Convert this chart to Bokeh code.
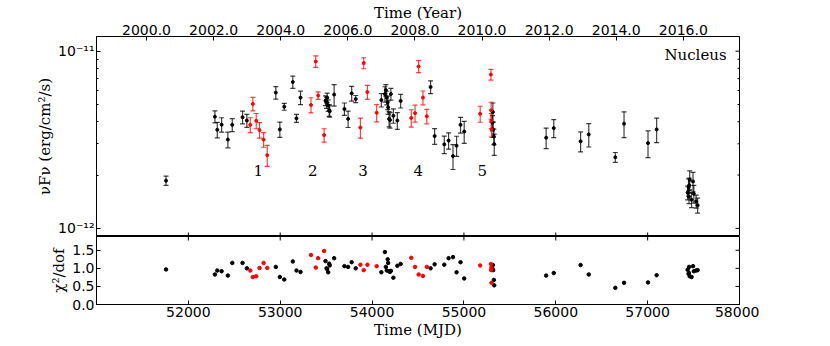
import math
from bokeh.plotting import figure
from bokeh.models import (ColumnDataSource, Range1d, LinearAxis, FixedTicker,
                          PrintfTickFormatter, CustomJSTickFormatter, Whisker, TeeHead, Label)
from bokeh.layouts import column
from bokeh.embed import file_html
from bokeh.resources import INLINE
from bokeh.core.properties import value

# ---------------- data ----------------
black_mjd = [51757, 52289, 52315, 52362, 52430, 52478, 52590, 52637, 52952, 52996,
             53044, 53137, 53177, 53221, 53493, 53504, 53511, 53522, 53533, 53539,
             53587, 53699, 53739, 53778, 53822, 54101, 54140, 54150, 54160, 54170,
             54175, 54185, 54195, 54205, 54232, 54275, 54311, 54637, 54681, 54786,
             54833, 54881, 54920, 54963, 55003, 55311, 55315, 55318, 55326, 55330,
             55895, 55978, 56270, 56359, 56648, 56743, 57004, 57098, 57435, 57445,
             57450, 57452, 57458, 57478, 57494, 57503, 57528, 57544]
black_flux = [1.86e-12, 4.27e-12, 3.60e-12, 3.85e-12, 3.17e-12, 3.84e-12, 4.24e-12, 4.06e-12, 5.84e-12, 3.62e-12,
              4.86e-12, 6.70e-12, 4.18e-12, 5.47e-12, 5.26e-12, 5.13e-12, 5.46e-12, 4.94e-12, 4.64e-12, 4.58e-12,
              5.69e-12, 4.72e-12, 4.15e-12, 5.78e-12, 5.37e-12, 5.30e-12, 5.73e-12, 6.03e-12, 5.46e-12, 5.13e-12,
              4.82e-12, 4.15e-12, 4.09e-12, 5.73e-12, 4.32e-12, 4.06e-12, 5.24e-12, 6.28e-12, 3.32e-12, 2.98e-12,
              3.13e-12, 2.56e-12, 2.93e-12, 3.84e-12, 3.52e-12, 3.94e-12, 4.54e-12, 3.62e-12, 3.30e-12, 2.99e-12,
              3.25e-12, 3.68e-12, 3.10e-12, 3.39e-12, 2.52e-12, 3.90e-12, 3.03e-12, 3.62e-12, 1.59e-12, 1.71e-12,
              1.51e-12, 1.75e-12, 1.88e-12, 1.45e-12, 1.84e-12, 1.57e-12, 1.42e-12, 1.35e-12]
black_err = [0.11e-12, 0.33e-12, 0.36e-12, 0.36e-12, 0.32e-12, 0.32e-12, 0.35e-12, 0.34e-12, 0.47e-12, 0.36e-12,
             0.22e-12, 0.53e-12, 0.22e-12, 0.48e-12, 0.33e-12, 0.38e-12, 0.34e-12, 0.37e-12, 0.35e-12, 0.34e-12,
             0.79e-12, 0.38e-12, 0.44e-12, 0.55e-12, 0.25e-12, 0.46e-12, 0.57e-12, 0.45e-12, 0.48e-12, 0.45e-12,
             0.42e-12, 0.41e-12, 0.41e-12, 0.43e-12, 0.40e-12, 0.44e-12, 0.46e-12, 0.52e-12, 0.34e-12, 0.34e-12,
             0.33e-12, 0.41e-12, 0.38e-12, 0.39e-12, 0.50e-12, 0.39e-12, 0.56e-12, 0.36e-12, 0.33e-12, 0.41e-12,
             0.43e-12, 0.43e-12, 0.40e-12, 0.51e-12, 0.16e-12, 0.65e-12, 0.52e-12, 0.57e-12, 0.14e-12, 0.19e-12,
             0.13e-12, 0.17e-12, 0.23e-12, 0.14e-12, 0.23e-12, 0.18e-12, 0.12e-12, 0.13e-12]
black_chi2 = [0.97, 0.83, 0.94, 0.92, 0.80, 1.15, 1.15, 1.00, 1.04, 0.76,
              0.69, 1.19, 0.94, 0.90, 1.20, 1.00, 0.98, 0.89, 1.13, 1.08,
              1.28, 1.06, 1.04, 1.17, 1.00, 0.89, 1.45, 1.04, 0.94, 1.25,
              1.15, 0.92, 0.90, 0.93, 0.74, 1.07, 1.12, 1.00, 1.11, 1.10,
              1.28, 1.31, 0.89, 1.17, 0.72, 0.99, 1.09, 0.95, 0.68, 0.53,
              0.80, 0.87, 1.09, 0.83, 0.46, 0.60, 0.61, 0.81, 0.96, 0.85,
              0.87, 1.04, 0.78, 0.76, 1.06, 0.92, 0.94, 0.95]

red_mjd = [52674, 52702, 52739, 52775, 52819, 52859, 53335, 53387, 53413, 53478,
           53873, 53909, 53949, 54050, 54427, 54468, 54507, 54554, 54596, 55177,
           55294, 55296, 55298, 55300]
red_flux = [3.84e-12, 5.04e-12, 4.05e-12, 3.59e-12, 3.17e-12, 2.59e-12, 4.97e-12, 8.75e-12, 5.62e-12, 3.36e-12,
            3.71e-12, 8.57e-12, 5.88e-12, 4.49e-12, 4.20e-12, 4.47e-12, 8.20e-12, 5.47e-12, 4.29e-12, 4.43e-12,
            7.38e-12, 4.64e-12, 4.05e-12, 3.62e-12]
red_err = [0.37e-12, 0.44e-12, 0.40e-12, 0.36e-12, 0.30e-12, 0.35e-12, 0.49e-12, 0.65e-12, 0.28e-12, 0.29e-12,
           0.48e-12, 0.61e-12, 0.53e-12, 0.50e-12, 0.47e-12, 0.49e-12, 0.64e-12, 0.49e-12, 0.40e-12, 0.46e-12,
           0.51e-12, 0.51e-12, 0.40e-12, 0.35e-12]
red_chi2 = [0.94, 0.76, 0.78, 1.01, 1.15, 1.01, 1.37, 1.02, 1.28, 1.48,
            1.10, 0.95, 1.10, 1.06, 1.29, 1.04, 0.83, 0.79, 1.04, 1.08,
            1.12, 0.95, 1.02, 0.60]

seg_labels = ["1", "2", "3", "4", "5"]
seg_mjd = [52761, 53354, 53902, 54503, 55199]
seg_flux = [2.13e-12, 2.13e-12, 2.13e-12, 2.13e-12, 2.13e-12]

mjd_ticks = [51000, 52000, 53000, 54000, 55000, 56000, 57000, 58000]
mjd_label_ticks = [52000, 53000, 54000, 55000, 56000, 57000, 58000]
year_ticks = [2000, 2002, 2004, 2006, 2008, 2010, 2012, 2014, 2016]
chi_ticks = [0.0, 0.5, 1.0, 1.5]
flux_ticks = [1e-12, 1e-11]
flux_minor = [k * 1e-12 for k in range(2, 10)]

MJD_MIN, MJD_MAX = 51000, 58000
MJD_Y2000 = 51544.5
FLUX_MIN, FLUX_MAX = 9.0e-13, 1.21e-11
CHI_MIN, CHI_MAX = 0.0, 1.88

# ---------------- styling ----------------
TICK_FONT = "DejaVu Sans"
LABEL_FONT = "DejaVu Serif"
TICK_SIZE = "14px"
LABEL_SIZE = "15px"
FRAME_W = 643
LEFT = 96
RIGHT = 20
MAJ = 4   # inward major tick length (px)
MIN = 2   # inward minor tick length (px)


def style_axis(ax):
    ax.major_tick_in = MAJ
    ax.major_tick_out = 0
    ax.minor_tick_in = MIN
    ax.minor_tick_out = 0
    ax.axis_line_color = "black"
    ax.major_tick_line_color = "black"
    ax.minor_tick_line_color = "black"
    ax.major_label_text_font = TICK_FONT
    ax.major_label_text_color = "black"
    ax.major_label_text_font_size = TICK_SIZE
    ax.axis_label_text_font = LABEL_FONT
    ax.axis_label_text_font_style = "normal"
    ax.axis_label_text_font_size = LABEL_SIZE
    ax.axis_label_text_color = "black"
    ax.major_label_standoff = 2
    ax.axis_label_standoff = 1


def inner_ticks(p, xs, ys, length, vertical):
    # tick marks drawn as dashes centred on the frame edge; the frame clips the outer half
    p.scatter(x=xs, y=ys, marker="dash", size=2 * length,
              angle=(math.pi / 2 if vertical else 0.0), line_color="black", line_width=1)


def to_year(m):
    return 2000.0 + (m - MJD_Y2000) / 365.25


sup_js = """
const sup = {'-':'\u207b','0':'\u2070','1':'\u00b9','2':'\u00b2','3':'\u00b3','4':'\u2074',
             '5':'\u2075','6':'\u2076','7':'\u2077','8':'\u2078','9':'\u2079'};
const e = Math.round(Math.log10(tick));
return '10' + String(e).split('').map(c => sup[c]).join('');
"""

# ---------------- top panel ----------------
p1 = figure(frame_width=FRAME_W, frame_height=200,
            x_range=Range1d(MJD_MIN, MJD_MAX), y_range=Range1d(FLUX_MIN, FLUX_MAX),
            y_axis_type="log", x_axis_location=None,
            output_backend="svg", toolbar_location=None,
            min_border_left=LEFT, min_border_right=RIGHT, min_border_top=0, min_border_bottom=0)
p1.grid.visible = False
p1.outline_line_color = "black"
p1.outline_line_alpha = 1.0
p1.background_fill_color = "white"
p1.border_fill_color = "white"

yl = p1.yaxis[0]
yl.ticker = FixedTicker(ticks=flux_ticks, minor_ticks=flux_minor)
yl.formatter = CustomJSTickFormatter(code=sup_js)
yl.axis_label = "\u03bdF\u03bd (erg/cm\u00b2/s)"
style_axis(yl)

p1.extra_x_ranges = {"year": Range1d(to_year(MJD_MIN), to_year(MJD_MAX))}
ya = LinearAxis(x_range_name="year", ticker=FixedTicker(ticks=year_ticks),
                formatter=PrintfTickFormatter(format="%.1f"), axis_label="Time (Year)")
style_axis(ya)
ya.axis_label_standoff = 0
p1.add_layout(ya, "above")

# inward ticks on the bottom and right edges of the top panel
inner_ticks(p1, mjd_ticks, [FLUX_MIN] * len(mjd_ticks), MAJ, True)
inner_ticks(p1, [MJD_MAX] * len(flux_ticks), flux_ticks, MAJ, False)
inner_ticks(p1, [MJD_MAX] * len(flux_minor), flux_minor, MIN, False)

src_b = ColumnDataSource(dict(x=black_mjd, y=black_flux,
                              lo=[f - e for f, e in zip(black_flux, black_err)],
                              hi=[f + e for f, e in zip(black_flux, black_err)]))
src_r = ColumnDataSource(dict(x=red_mjd, y=red_flux,
                              lo=[f - e for f, e in zip(red_flux, red_err)],
                              hi=[f + e for f, e in zip(red_flux, red_err)]))

for src, col in ((src_b, "black"), (src_r, "#ff0000")):
    w = Whisker(source=src, base="x", lower="lo", upper="hi", dimension="height",
                line_color=col, line_alpha=0.75, line_width=1.2,
                upper_head=TeeHead(size=5, line_color=col, line_alpha=0.75, line_width=1.2),
                lower_head=TeeHead(size=5, line_color=col, line_alpha=0.75, line_width=1.2))
    p1.add_layout(w)
    p1.scatter("x", "y", source=src, size=3, color=col)

p1.text(x=seg_mjd, y=seg_flux, text=seg_labels, text_font=value(LABEL_FONT),
        text_font_size="15px", text_align="center", text_baseline="middle", text_color="black")

p1.add_layout(Label(x=57860, y=9.5e-12, text="Nucleus", text_align="right", text_baseline="middle",
                    text_font=LABEL_FONT, text_font_size="15px", text_color="black"))

# ---------------- bottom panel ----------------
p2 = figure(frame_width=FRAME_W, frame_height=68,
            x_range=p1.x_range, y_range=Range1d(CHI_MIN, CHI_MAX),
            output_backend="svg", toolbar_location=None,
            min_border_left=LEFT, min_border_right=RIGHT, min_border_top=0, min_border_bottom=0)
p2.grid.visible = False
p2.outline_line_color = "black"
p2.outline_line_alpha = 1.0
p2.background_fill_color = "white"
p2.border_fill_color = "white"

bx = p2.xaxis[0]
bx.ticker = FixedTicker(ticks=mjd_label_ticks)
bx.axis_label = "Time (MJD)"
style_axis(bx)

by = p2.yaxis[0]
by.ticker = FixedTicker(ticks=chi_ticks)
by.formatter = PrintfTickFormatter(format="%.1f")
by.axis_label = "\u03c7\u00b2/dof"
style_axis(by)

inner_ticks(p2, mjd_ticks, [CHI_MAX] * len(mjd_ticks), MAJ, True)
inner_ticks(p2, [MJD_MAX] * len(chi_ticks), chi_ticks, MAJ, False)

p2.scatter(black_mjd, black_chi2, size=3.5, color="black")
p2.scatter(red_mjd, red_chi2, size=3.5, color="#ff0000")

layout = column(p1, p2, spacing=0)
open("out.html", "w").write(file_html(layout, INLINE))
